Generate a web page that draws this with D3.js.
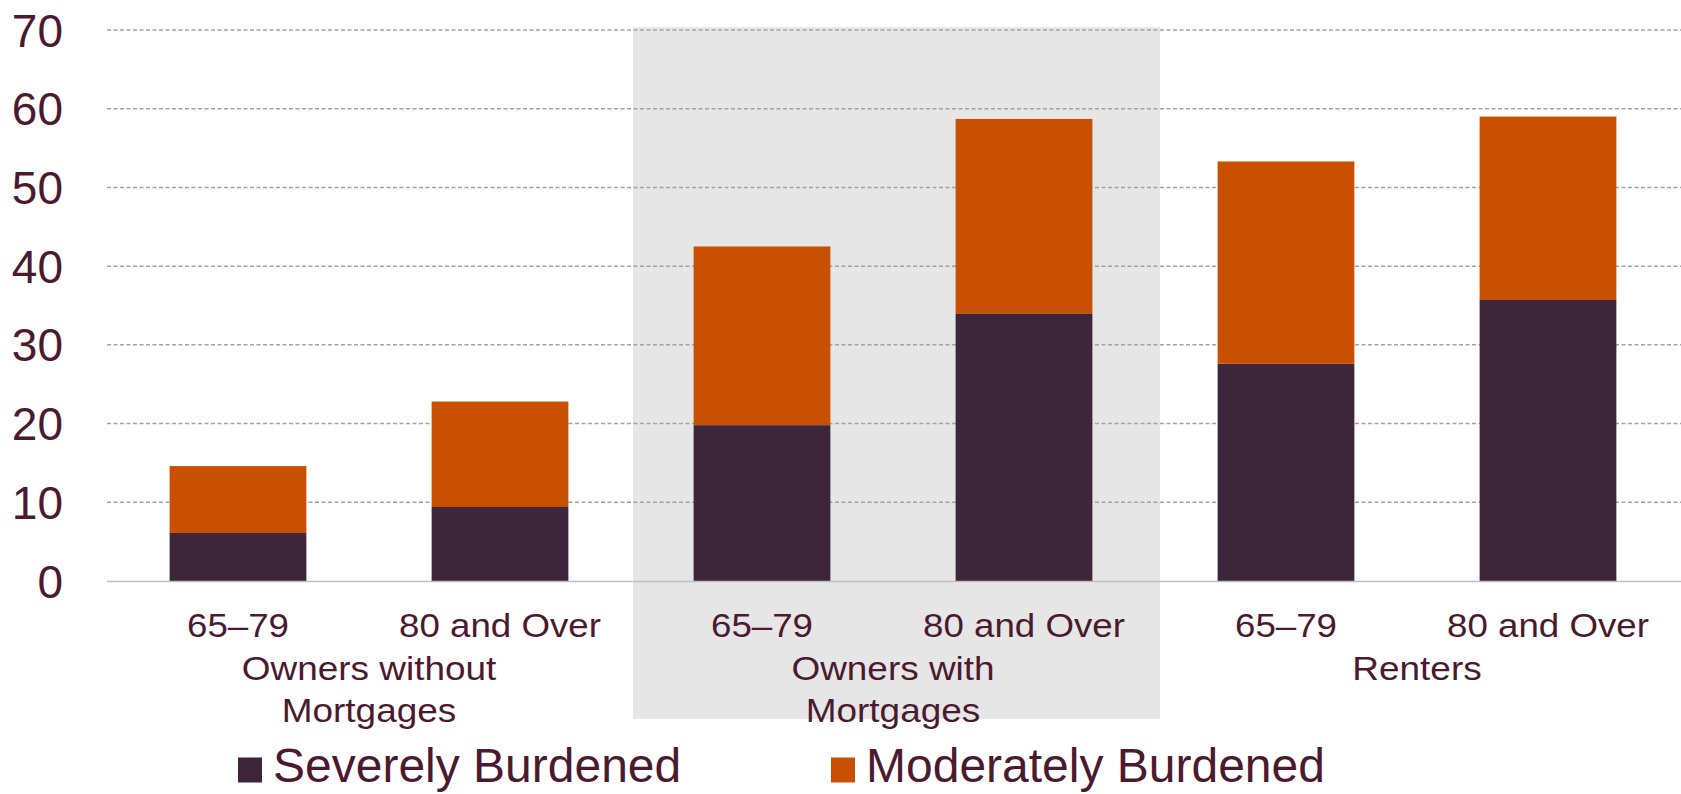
<!DOCTYPE html>
<html>
<head>
<meta charset="utf-8">
<script src="https://cdn.jsdelivr.net/npm/d3@7"></script>
<style>
  body { margin: 0; background: #fff; }
  text { font-family: "Liberation Sans", Arial, sans-serif; fill: #4b1a2f; }
</style>
</head>
<body>
<div id="chart"></div>
<script>
// share of households cost burdened, by tenure and age
var ageLabels = ["65–79", "80 and Over", "65–79", "80 and Over", "65–79", "80 and Over"]
var groupIndex = [0, 0, 1, 1, 2, 2]
var groupLabels = [["Owners without", "Mortgages"], ["Owners with", "Mortgages"], ["Renters"]]
var severe = [6.1, 9.4, 19.8, 34.0, 27.6, 35.7]
var moderate = [8.5, 13.4, 22.7, 24.7, 25.7, 23.3]
var yTicks = [0, 10, 20, 30, 40, 50, 60, 70]
var seriesNames = ["Severely Burdened", "Moderately Burdened"]
var colors = ["#3e263a", "#c95000"]

var width = 1681, height = 794
var margin = { top: 30, right: 2, bottom: 213, left: 107 }

var svg = d3.select("#chart")
  .append("svg")
  .attr("width", width)
  .attr("height", height)

var ids = d3.range(ageLabels.length)

var x = d3.scaleBand()
  .domain(ids)
  .range([margin.left, margin.left + 262 * 6])
  .paddingInner(0.478)
  .paddingOuter(0.239)

var y = d3.scaleLinear()
  .domain([0, 70])
  .range([height - margin.bottom, margin.top])

var gap = x.step() - x.bandwidth()

// shaded middle group
svg.append("rect")
  .attr("x", x(2) - gap / 2 + 2)
  .attr("y", y(70) - 3)
  .attr("width", x.step() * 2 + 3)
  .attr("height", 719 - (y(70) - 3))
  .attr("fill", "#e6e6e6")

// gridlines
svg.selectAll(".grid")
  .data(yTicks.filter(function(d) { return d > 0 }))
  .enter()
  .append("line")
  .attr("x1", margin.left)
  .attr("x2", width)
  .attr("y1", function(d) { return y(d) })
  .attr("y2", function(d) { return y(d) })
  .attr("stroke", "#a3a3a3")
  .attr("stroke-width", 1.5)
  .attr("stroke-dasharray", "4,2.5")

// y labels
svg.selectAll(".ylab")
  .data(yTicks)
  .enter()
  .append("text")
  .attr("x", 63)
  .attr("y", function(d) { return y(d) })
  .attr("dy", "0.36em")
  .attr("text-anchor", "end")
  .attr("font-size", 46)
  .text(function(d) { return d })

// stacked bars
var rows = ids.map(function(i) {
  return { id: i, severe: severe[i], moderate: moderate[i] }
})
var stack = d3.stack().keys(["severe", "moderate"])(rows)

svg.selectAll(".series")
  .data(stack)
  .enter()
  .append("g")
  .attr("fill", function(d, i) { return colors[i] })
  .selectAll("rect")
  .data(function(d) { return d })
  .enter()
  .append("rect")
  .attr("x", function(d) { return x(d.data.id) })
  .attr("y", function(d) { return y(d[1]) })
  .attr("width", x.bandwidth())
  .attr("height", function(d) { return y(d[0]) - y(d[1]) })

// axis line
svg.append("line")
  .attr("x1", margin.left)
  .attr("x2", width)
  .attr("y1", y(0) + 0.5)
  .attr("y2", y(0) + 0.5)
  .attr("stroke", "#bfbfbf")
  .attr("stroke-width", 1.6)

// age labels
svg.selectAll(".age")
  .data(ids)
  .enter()
  .append("g")
  .attr("transform", function(i) { return "translate(" + (x(i) + x.bandwidth() / 2) + ",637)" })
  .append("text")
  .attr("transform", "scale(1.13,1)")
  .attr("text-anchor", "middle")
  .attr("font-size", 32.5)
  .text(function(i) { return ageLabels[i] })

// group labels
var groupCenters = groupLabels.map(function(g, gi) {
  var members = ids.filter(function(i) { return groupIndex[i] === gi })
  return d3.mean(members, function(i) { return x(i) + x.bandwidth() / 2 })
})

var groups = svg.selectAll(".grp")
  .data(groupLabels)
  .enter()
  .append("g")
  .attr("transform", function(d, gi) { return "translate(" + groupCenters[gi] + ",680)" })

groups.selectAll("text")
  .data(function(d) { return d })
  .enter()
  .append("text")
  .attr("transform", function(d, li) { return "translate(0," + li * 42 + ") scale(1.12,1)" })
  .attr("text-anchor", "middle")
  .attr("font-size", 33)
  .text(function(d) { return d })

// legend
var legendX = [238, 831]
var legend = svg.selectAll(".legend")
  .data(seriesNames)
  .enter()
  .append("g")
  .attr("transform", function(d, i) { return "translate(" + legendX[i] + ",0)" })

legend.append("rect")
  .attr("x", 0)
  .attr("y", 757.5)
  .attr("width", 24)
  .attr("height", 25)
  .attr("fill", function(d, i) { return colors[i] })

legend.append("text")
  .attr("x", 35)
  .attr("y", 782)
  .attr("font-size", 48)
  .text(function(d) { return d })
</script>
</body>
</html>
